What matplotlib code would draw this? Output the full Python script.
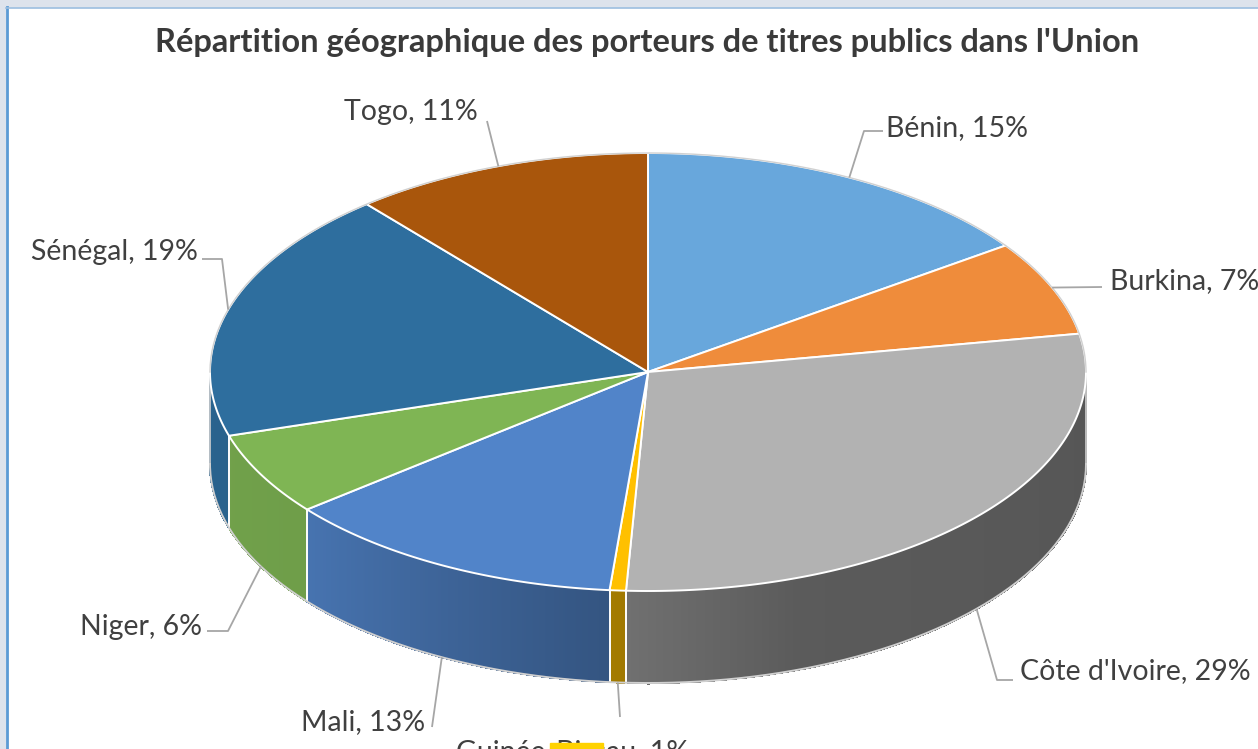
"""
3D-style pie: Répartition géographique des porteurs de titres publics.
"""

import numpy as np
import matplotlib
matplotlib.use("Agg")
from matplotlib import pyplot as plt
from matplotlib.collections import PolyCollection
from matplotlib.patches import Polygon, Rectangle
from matplotlib.colors import to_rgb


# Data (shares in %; labels show rounded values)
countries = ["Bénin", "Burkina", "Côte d'Ivoire", "Guinée-Bissau",
             "Mali", "Niger", "Sénégal", "Togo"]
shares = [15.2, 7.0, 28.6, 0.6, 12.8, 6.1, 18.6, 11.1]
top_colors = ["#68a7dc", "#ef8c3b", "#b2b2b2", "#ffc000",
              "#5184c9", "#7fb554", "#2e6e9e", "#a9560c"]

TITLE = "Répartition géographique des porteurs de titres publics dans l'Union"

# Layout (pixels, y down)
W, H = 1258, 749
CX, CY = 648, 372
RX, RY = 438, 219
DEPTH = 92

FONT = "Lato"
LABEL_FONTSIZE = 20.5
TITLE_FONTSIZE = 23.5
TEXT_COLOR = "#404040"
LEADER_COLOR = "#a6a6a6"

# label text: (x, baseline y, ha), leader elbow points from label side
label_layout = {
    "Bénin": (886, 136, "left", [(883, 131), (864, 131)]),
    "Burkina": (1110, 289, "left", [(1102, 287)]),
    "Côte d'Ivoire": (1020, 679, "left", [(1013, 680), (997, 680)]),
    "Guinée-Bissau": (573, 760, "center", [(620, 717)]),
    "Mali": (425, 730, "right", [(432, 727)]),
    "Niger": (202, 635, "right", [(207, 631), (228, 631)]),
    "Sénégal": (198, 260, "right", [(202, 259), (222, 259)]),
    "Togo": (478, 120, "right", [(487, 121)]),
}


def edge(theta):
    """Point on the top rim, theta in degrees clockwise from 12 o'clock."""
    t = np.radians(theta)
    return CX + RX * np.sin(t), CY - RY * np.cos(t)


def shade(theta):
    """Side wall brightness factor, lighter toward the left."""
    return np.interp(theta, [90, 160, 185, 230, 270], [0.48, 0.51, 0.64, 0.87, 0.9])


fig = plt.figure(figsize=(W / 100, H / 100), dpi=100)
ax = fig.add_axes([0, 0, 1, 1])
ax.set_xlim(0, W)
ax.set_ylim(H, 0)
ax.axis("off")

# window chrome around the chart
ax.add_patch(Rectangle((0, 0), W, 7, color="#dde3ec", zorder=0))
ax.add_patch(Rectangle((0, 0), 6, H, color="#dde3ec", zorder=0))
ax.plot([6.5, 6.5], [7, H], color="#5b9bd5", lw=2, zorder=1)
ax.plot([6, W], [7.5, 7.5], color="#9dbfe0", lw=1.2, zorder=1)

total = float(sum(shares))
bounds = np.concatenate([[0], np.cumsum(shares)]) / total * 360

# side walls (front half only)
for i, color in enumerate(top_colors):
    a0, a1 = max(bounds[i], 90), min(bounds[i + 1], 270)
    if a1 <= a0:
        continue
    steps = np.linspace(a0, a1, max(int((a1 - a0) * 4), 2) + 1)
    polys, cols = [], []
    base = np.array(to_rgb(color))
    for t0, t1 in zip(steps[:-1], steps[1:]):
        x0, y0 = edge(t0)
        x1, y1 = edge(t1)
        polys.append([(x0, y0), (x1, y1), (x1, y1 + DEPTH), (x0, y0 + DEPTH)])
        cols.append(base * shade((t0 + t1) / 2))
    ax.add_collection(PolyCollection(polys, facecolors=cols, edgecolors=cols,
                                     linewidths=0.8, antialiaseds=False, zorder=2))

for b in bounds[1:-1]:
    if 90 < b < 270:
        x, y = edge(b)
        ax.plot([x, x], [y, y + DEPTH], color="white", lw=1.4, zorder=3)

# wall outline
tt = np.linspace(90, 270, 200)
ex, ey = edge(tt)
ax.plot(ex, ey + DEPTH, color="#d0d0d0", lw=1.4, zorder=3)
for t in (90, 270):
    x, y = edge(t)
    ax.plot([x, x], [y, y + DEPTH], color="#d0d0d0", lw=1.2, zorder=3)

# top face
for i, color in enumerate(top_colors):
    tt = np.linspace(bounds[i], bounds[i + 1], 200)
    px, py = edge(tt)
    pts = [(CX, CY)] + list(zip(px, py))
    ax.add_patch(Polygon(pts, closed=True, facecolor=color, edgecolor="white",
                         lw=1.4, joinstyle="round", zorder=4))

tt = np.linspace(-90, 90, 200)
ex, ey = edge(tt)
ax.plot(ex, ey, color="#d0d0d0", lw=1.0, zorder=5)

# labels and leader lines
for i, name in enumerate(countries):
    x, y, ha, elbow = label_layout[name]
    mid = (bounds[i] + bounds[i + 1]) / 2
    axx, ayy = edge(mid)
    if 90 < mid < 270:
        ayy += DEPTH
    pts = elbow + [(axx, ayy)]
    ax.plot([p[0] for p in pts], [p[1] for p in pts], color=LEADER_COLOR,
            lw=1.3, zorder=6, solid_capstyle="butt")
    pct = round(shares[i] / total * 100)
    ax.text(x, y, "%s, %d%%" % (name, pct), ha=ha, va="baseline",
            fontsize=LABEL_FONTSIZE, family=FONT, color=TEXT_COLOR, zorder=7)

ax.text(647, 52, TITLE, ha="center", va="baseline", fontsize=TITLE_FONTSIZE,
        family=FONT, fontweight="bold", color="#3a3a3a", zorder=7)

# yellow marker at the bottom edge of the screenshot
ax.add_patch(Rectangle((550, 743), 53, 10, color="#ffd200", zorder=8))

fig.savefig("out.png", dpi=100)
